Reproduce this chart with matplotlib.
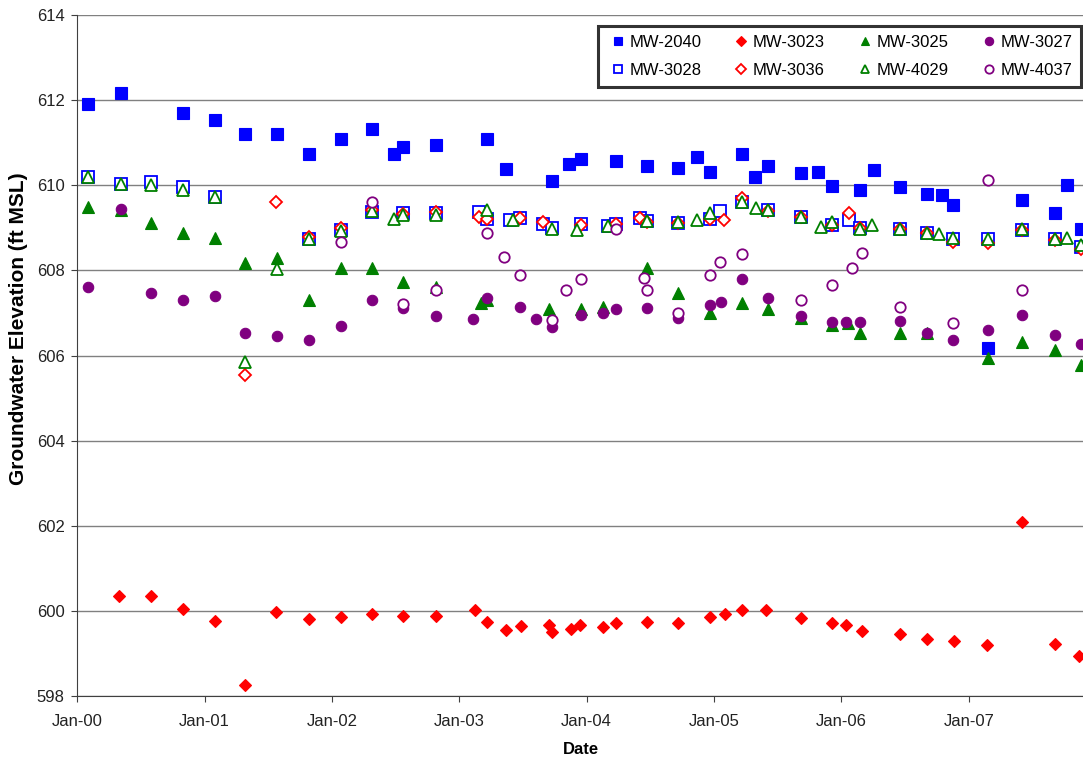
import matplotlib
matplotlib.use('Agg')
import matplotlib.pyplot as plt
import matplotlib.dates as mdates
import pandas as pd

# --- data ---
mw2040_dates = ['2000-02-01', '2000-05-05', '2000-10-30', '2001-01-30', '2001-04-28', '2001-07-27',
                '2001-10-27', '2002-01-28', '2002-04-27', '2002-06-28', '2002-07-25', '2002-10-26',
                '2003-03-21', '2003-05-15', '2003-09-24', '2003-11-13', '2003-12-16', '2004-03-25',
                '2004-06-21', '2004-09-20', '2004-11-14', '2004-12-20', '2005-03-21', '2005-04-27',
                '2005-06-03', '2005-09-06', '2005-10-27', '2005-12-06', '2006-02-24', '2006-04-05',
                '2006-06-17', '2006-09-02', '2006-10-16', '2006-11-18', '2007-02-24', '2007-06-03',
                '2007-09-06', '2007-10-09', '2007-11-18']
mw2040_vals = [611.91, 612.18, 611.71, 611.54, 611.20, 611.20,
               610.74, 611.08, 611.32, 610.74, 610.91, 610.94,
               611.10, 610.39, 610.10, 610.50, 610.61, 610.58,
               610.46, 610.42, 610.67, 610.32, 610.73, 610.20,
               610.45, 610.29, 610.32, 609.98, 609.89, 610.35,
               609.96, 609.80, 609.77, 609.55, 606.18, 609.66,
               609.35, 610.00, 608.98]

mw3023_dates = ['2000-05-01', '2000-07-31', '2000-10-30', '2001-01-30', '2001-04-28', '2001-07-25',
                '2001-10-27', '2002-01-28', '2002-04-27', '2002-07-25', '2002-10-26', '2003-02-14',
                '2003-03-21', '2003-05-15', '2003-06-28', '2003-09-16', '2003-09-24', '2003-11-17',
                '2003-12-12', '2004-02-17', '2004-03-25', '2004-06-21', '2004-09-20', '2004-12-20',
                '2005-02-02', '2005-03-21', '2005-05-30', '2005-09-06', '2005-12-06', '2006-01-15',
                '2006-02-28', '2006-06-17', '2006-09-02', '2006-11-21', '2007-02-21', '2007-06-03',
                '2007-09-06', '2007-11-14']
mw3023_vals = [600.35, 600.35, 600.04, 599.77, 598.25, 599.97,
               599.82, 599.85, 599.92, 599.89, 599.87, 600.03,
               599.73, 599.56, 599.64, 599.67, 599.51, 599.57,
               599.68, 599.62, 599.71, 599.73, 599.71, 599.85,
               599.92, 600.03, 600.02, 599.84, 599.71, 599.66,
               599.52, 599.45, 599.33, 599.29, 599.20, 602.09,
               599.22, 598.95]

mw3025_dates = ['2000-02-01', '2000-05-05', '2000-07-31', '2000-10-30', '2001-01-30', '2001-04-28',
                '2001-07-27', '2001-10-27', '2002-01-28', '2002-04-27', '2002-07-25', '2002-10-26',
                '2003-03-03', '2003-03-21', '2003-09-16', '2003-12-16', '2004-02-17', '2004-06-21',
                '2004-09-20', '2004-12-20', '2005-03-21', '2005-06-03', '2005-09-06', '2005-12-06',
                '2006-01-19', '2006-02-24', '2006-06-17', '2006-09-02', '2007-02-24', '2007-06-03',
                '2007-09-06', '2007-11-18']
mw3025_vals = [609.50, 609.42, 609.11, 608.87, 608.77, 608.17,
               608.29, 607.31, 608.05, 608.05, 607.73, 607.62,
               607.23, 607.30, 607.09, 607.09, 607.15, 608.07,
               607.47, 607.00, 607.23, 607.09, 606.88, 606.72,
               606.76, 606.53, 606.53, 606.53, 605.94, 606.33,
               606.14, 605.78]

mw3027_dates = ['2000-02-01', '2000-05-05', '2000-07-31', '2000-10-30', '2001-01-30', '2001-04-28',
                '2001-07-27', '2001-10-27', '2002-01-28', '2002-04-27', '2002-07-25', '2002-10-26',
                '2003-02-10', '2003-03-21', '2003-06-25', '2003-08-08', '2003-09-24', '2003-12-16',
                '2004-02-17', '2004-03-25', '2004-06-21', '2004-09-20', '2004-12-20', '2005-01-22',
                '2005-03-21', '2005-06-03', '2005-09-06', '2005-12-06', '2006-01-15', '2006-02-24',
                '2006-06-17', '2006-09-02', '2006-11-18', '2007-02-24', '2007-06-03', '2007-09-06',
                '2007-11-18']
mw3027_vals = [607.62, 609.45, 607.47, 607.31, 607.41, 606.52,
               606.45, 606.36, 606.70, 607.31, 607.12, 606.92,
               606.86, 607.36, 607.15, 606.86, 606.67, 606.96,
               607.00, 607.10, 607.12, 606.89, 607.19, 607.27,
               607.80, 607.36, 606.92, 606.80, 606.80, 606.78,
               606.82, 606.53, 606.37, 606.61, 606.96, 606.49,
               606.28]

mw3028_dates = ['2000-02-01', '2000-05-05', '2000-07-31', '2000-10-30', '2001-01-30', '2001-10-27',
                '2002-01-28', '2002-04-27', '2002-07-25', '2002-10-26', '2003-02-28', '2003-03-21',
                '2003-05-26', '2003-06-25', '2003-08-29', '2003-09-24', '2003-12-16', '2004-03-03',
                '2004-03-25', '2004-06-03', '2004-06-21', '2004-09-20', '2004-12-20', '2005-01-19',
                '2005-03-21', '2005-06-03', '2005-09-06', '2005-12-06', '2006-01-22', '2006-02-24',
                '2006-06-17', '2006-09-02', '2006-11-18', '2007-02-24', '2007-06-03', '2007-09-06',
                '2007-11-18']
mw3028_vals = [610.19, 610.03, 610.07, 609.97, 609.73, 608.75,
               608.95, 609.38, 609.34, 609.34, 609.37, 609.20,
               609.19, 609.23, 609.09, 608.99, 609.09, 609.05,
               609.10, 609.23, 609.17, 609.12, 609.20, 609.40,
               609.60, 609.41, 609.26, 609.07, 609.19, 609.00,
               608.97, 608.89, 608.73, 608.73, 608.96, 608.74,
               608.55]

mw3036_dates = ['2001-04-28', '2001-07-25', '2001-10-27', '2002-01-28', '2002-04-27', '2002-07-25',
                '2002-10-26', '2003-02-28', '2003-03-21', '2003-06-25', '2003-08-29', '2003-12-16',
                '2004-03-25', '2004-06-03', '2004-06-21', '2004-09-20', '2004-12-20', '2005-01-30',
                '2005-03-21', '2005-06-03', '2005-09-06', '2005-12-06', '2006-01-22', '2006-02-24',
                '2006-06-17', '2006-09-02', '2006-11-18', '2007-02-24', '2007-06-03', '2007-09-06',
                '2007-11-18']
mw3036_vals = [605.55, 609.60, 608.78, 609.00, 609.43, 609.33,
               609.38, 609.25, 609.20, 609.23, 609.15, 609.08,
               609.10, 609.23, 609.15, 609.12, 609.20, 609.19,
               609.70, 609.40, 609.26, 609.08, 609.34, 609.00,
               608.97, 608.88, 608.68, 608.65, 608.96, 608.72,
               608.50]

mw4029_dates = ['2000-02-01', '2000-05-05', '2000-07-31', '2000-10-30', '2001-01-30', '2001-04-28',
                '2001-07-27', '2001-10-27', '2002-01-28', '2002-04-27', '2002-06-28', '2002-07-25',
                '2002-10-26', '2003-03-21', '2003-06-03', '2003-09-24', '2003-12-05', '2004-03-03',
                '2004-06-21', '2004-09-20', '2004-11-14', '2004-12-20', '2005-03-21', '2005-05-01',
                '2005-06-03', '2005-09-06', '2005-11-03', '2005-12-06', '2006-02-24', '2006-03-29',
                '2006-06-17', '2006-09-02', '2006-10-08', '2006-11-18', '2007-02-24', '2007-06-03',
                '2007-09-06', '2007-10-09', '2007-11-18']
mw4029_vals = [610.20, 610.03, 610.00, 609.90, 609.73, 605.86,
               608.03, 608.74, 608.93, 609.40, 609.21, 609.30,
               609.30, 609.43, 609.19, 608.98, 608.95, 609.05,
               609.17, 609.13, 609.19, 609.35, 609.62, 609.47,
               609.42, 609.26, 609.03, 609.13, 608.98, 609.07,
               608.98, 608.89, 608.85, 608.77, 608.75, 608.98,
               608.74, 608.76, 608.60]

mw4037_dates = ['2002-01-28', '2002-04-27', '2002-07-25', '2002-10-26', '2003-03-21', '2003-05-08',
                '2003-06-25', '2003-09-24', '2003-11-03', '2003-12-16', '2004-03-25', '2004-06-14',
                '2004-06-21', '2004-09-20', '2004-12-20', '2005-01-19', '2005-03-21', '2005-09-06',
                '2005-12-06', '2006-01-30', '2006-02-28', '2006-06-17', '2006-11-18', '2007-02-24',
                '2007-06-03']
mw4037_vals = [608.68, 609.60, 607.22, 607.55, 608.89, 608.31,
               607.89, 606.83, 607.53, 607.81, 608.98, 607.82,
               607.55, 607.00, 607.89, 608.20, 608.39, 607.31,
               607.66, 608.07, 608.41, 607.15, 606.76, 610.12,
               607.53]

# name, dates, values, marker, colour, filled, size
series = [
    ('MW-2040', mw2040_dates, mw2040_vals, 's', '#0000FF', True, 8),
    ('MW-3023', mw3023_dates, mw3023_vals, 'D', '#FF0000', True, 6),
    ('MW-3025', mw3025_dates, mw3025_vals, '^', '#008000', True, 8),
    ('MW-3027', mw3027_dates, mw3027_vals, 'o', '#800080', True, 7.5),
    ('MW-3028', mw3028_dates, mw3028_vals, 's', '#0000FF', False, 8),
    ('MW-3036', mw3036_dates, mw3036_vals, 'D', '#FF0000', False, 6),
    ('MW-4029', mw4029_dates, mw4029_vals, '^', '#008000', False, 8),
    ('MW-4037', mw4037_dates, mw4037_vals, 'o', '#800080', False, 7.5),
]

plt.rcParams['font.family'] = ['Liberation Sans', 'DejaVu Sans']

fig = plt.figure(figsize=(10.83, 7.59), dpi=100)
ax = fig.add_axes([0.0711, 0.083, 0.93, 0.897])

handles = {}
for name, dates, vals, mk, col, filled, ms in series:
    h, = ax.plot(pd.to_datetime(dates), vals, linestyle='none', marker=mk,
                 markersize=ms, markeredgewidth=1.3 if not filled else 0.8,
                 color=col, markerfacecolor=col if filled else 'white',
                 markeredgecolor=col, label=name, zorder=3)
    handles[name] = h

ax.set_ylim(598, 614)
ax.set_yticks(range(598, 615, 2))
ax.set_xlim(pd.Timestamp('2000-01-01'), pd.Timestamp('2007-11-28'))
ax.xaxis.set_major_locator(mdates.YearLocator())
ax.xaxis.set_major_formatter(mdates.DateFormatter('%b-%y'))

ax.grid(axis='y', color='#808080', linewidth=1)
ax.set_axisbelow(True)
for side in ['top', 'right']:
    ax.spines[side].set_visible(False)
ax.spines['left'].set_color('#404040')
ax.spines['bottom'].set_color('#404040')
ax.tick_params(axis='both', labelsize=12, direction='out', length=4, color='#404040',
               labelcolor='#222222')
ax.tick_params(axis='x', pad=9)
ax.tick_params(axis='y', pad=5)

ax.set_xlabel('Date', fontsize=12, fontweight='bold', labelpad=9)
ax.set_ylabel('Groundwater Elevation (ft MSL)', fontsize=15, fontweight='bold',
              labelpad=6, y=0.54)

# legend fills column-wise, so interleave the rows
order = ['MW-2040', 'MW-3028', 'MW-3023', 'MW-3036', 'MW-3025', 'MW-4029', 'MW-3027', 'MW-4037']
leg = ax.legend([handles[n] for n in order], order, ncol=4, loc='upper right',
                bbox_to_anchor=(1081 / 1083, 1 - 26 / 759), bbox_transform=fig.transFigure,
                borderaxespad=0, fontsize=12, frameon=True, fancybox=False,
                edgecolor='black', handletextpad=0.05, columnspacing=1.75,
                handlelength=1.3, markerscale=0.8, borderpad=0.52, labelspacing=0.8)
leg.get_frame().set_linewidth(2.2)

fig.savefig('out.png', dpi=100)
